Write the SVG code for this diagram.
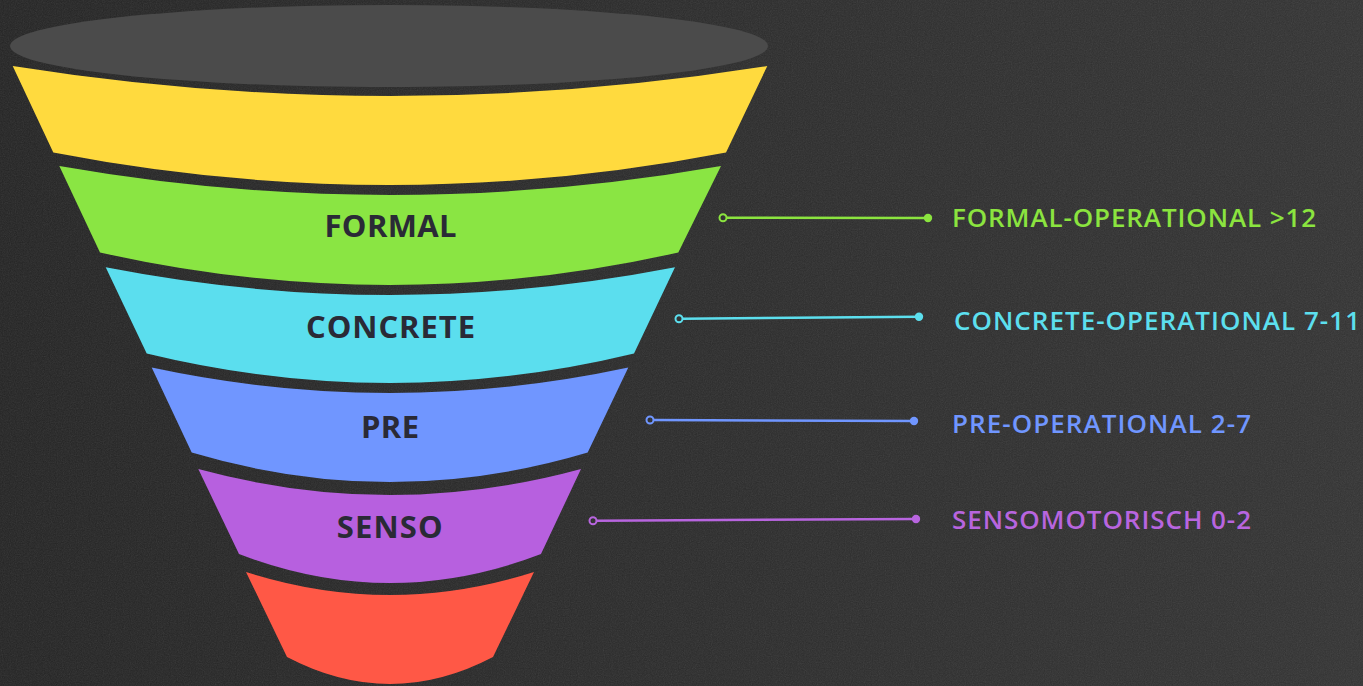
<svg xmlns="http://www.w3.org/2000/svg" width="1363" height="686" viewBox="0 0 1363 686">
  <defs>
    <linearGradient id="bg" x1="0" y1="0" x2="1" y2="0">
      <stop offset="0" stop-color="#242424"/>
      <stop offset="0.5" stop-color="#2b2b2b"/>
      <stop offset="1" stop-color="#333333"/>
    </linearGradient>
    <filter id="noise" x="0" y="0" width="100%" height="100%">
      <feTurbulence type="fractalNoise" baseFrequency="0.85" numOctaves="2" seed="3" stitchTiles="stitch"/>
      <feColorMatrix type="saturate" values="0"/>
      <feComponentTransfer>
        <feFuncA type="linear" slope="0.22"/>
      </feComponentTransfer>
    </filter>
    <style>
      .band-label { font-family: "Open Sans", "Lato", "Liberation Sans", sans-serif; font-weight: 700; font-size: 31px; fill: #2a2a36; text-anchor: middle; }
      .side-label { font-family: "Open Sans", "Lato", "Liberation Sans", sans-serif; font-weight: 600; font-size: 26px; }
      .conn { stroke-width: 2.5; fill: none; }
      .open { stroke-width: 2; fill: none; }
    </style>
  </defs>

  <rect width="1363" height="686" fill="url(#bg)"/>
  <rect width="1363" height="686" filter="url(#noise)" opacity="0.6"/>

  <g id="funnel-top">
    <ellipse cx="389" cy="46" rx="379" ry="41" fill="#4b4b4b"/>
  </g>

  <g id="stage-top">
    <path d="M12.7,66 Q390,126 767.3,66 L726,152.5 Q390,217.5 53.3,152.5 Z" fill="#FFDA3E"/>
  </g>

  <g id="stage-formal">
    <path d="M59.3,166 Q390,224 721,166 L678.3,252.5 Q390,317.5 100,252.5 Z" fill="#8AE543"/>
    <text class="band-label" x="390.5" y="237" textLength="132">FORMAL</text>
    <text class="side-label" x="952" y="227" fill="#8BE43F" textLength="364">FORMAL-OPERATIONAL &gt;12</text>
  </g>

  <g id="stage-concrete">
    <path d="M105.7,267.3 Q390,322.7 675,267.3 L634,353.5 Q390,412.5 146.7,353.5 Z" fill="#5BDEEE"/>
    <text class="band-label" x="390.5" y="338" textLength="169">CONCRETE</text>
    <text class="side-label" x="954" y="330" fill="#5CDFEE" textLength="406">CONCRETE-OPERATIONAL 7-11</text>
  </g>

  <g id="stage-pre">
    <path d="M151.7,367.5 Q390,418.5 628.3,367.5 L587.7,452.5 Q390,511.5 191.7,452.5 Z" fill="#7096FF"/>
    <text class="band-label" x="390" y="437.5" textLength="58">PRE</text>
    <text class="side-label" x="952" y="433" fill="#7096FF" textLength="299">PRE-OPERATIONAL 2-7</text>
  </g>

  <g id="stage-senso">
    <path d="M198.3,469 Q390,521 581,469 L541,554 Q390,612 239,554 Z" fill="#B760DF"/>
    <text class="band-label" x="389.7" y="538" textLength="106">SENSO</text>
    <text class="side-label" x="952" y="529" fill="#B865DF" textLength="299">SENSOMOTORISCH 0-2</text>
  </g>

  <g id="stage-bottom">
    <path d="M246,572 Q390,618 534,572 L493,657 Q390,711 287,657 Z" fill="#FF5846"/>
  </g>

  <g id="connectors">
    <g stroke="#8BE43F" fill="#8BE43F">
      <line class="conn" x1="726.5" y1="217.7" x2="928" y2="218"/>
      <circle class="open" cx="723" cy="217.7" r="3.5"/>
      <circle cx="928" cy="218" r="4.2" stroke="none"/>
    </g>
    <g stroke="#5CDFEE" fill="#5CDFEE">
      <line class="conn" x1="682.5" y1="318.7" x2="919" y2="316.7"/>
      <circle class="open" cx="679" cy="318.7" r="3.5"/>
      <circle cx="919" cy="316.7" r="4.2" stroke="none"/>
    </g>
    <g stroke="#7096FF" fill="#7096FF">
      <line class="conn" x1="653.5" y1="420" x2="914" y2="421"/>
      <circle class="open" cx="650" cy="420" r="3.5"/>
      <circle cx="914" cy="421" r="4.2" stroke="none"/>
    </g>
    <g stroke="#B865DF" fill="#B865DF">
      <line class="conn" x1="596.5" y1="520.7" x2="916" y2="519"/>
      <circle class="open" cx="593" cy="520.7" r="3.5"/>
      <circle cx="916" cy="519" r="4.2" stroke="none"/>
    </g>
  </g>
</svg>
